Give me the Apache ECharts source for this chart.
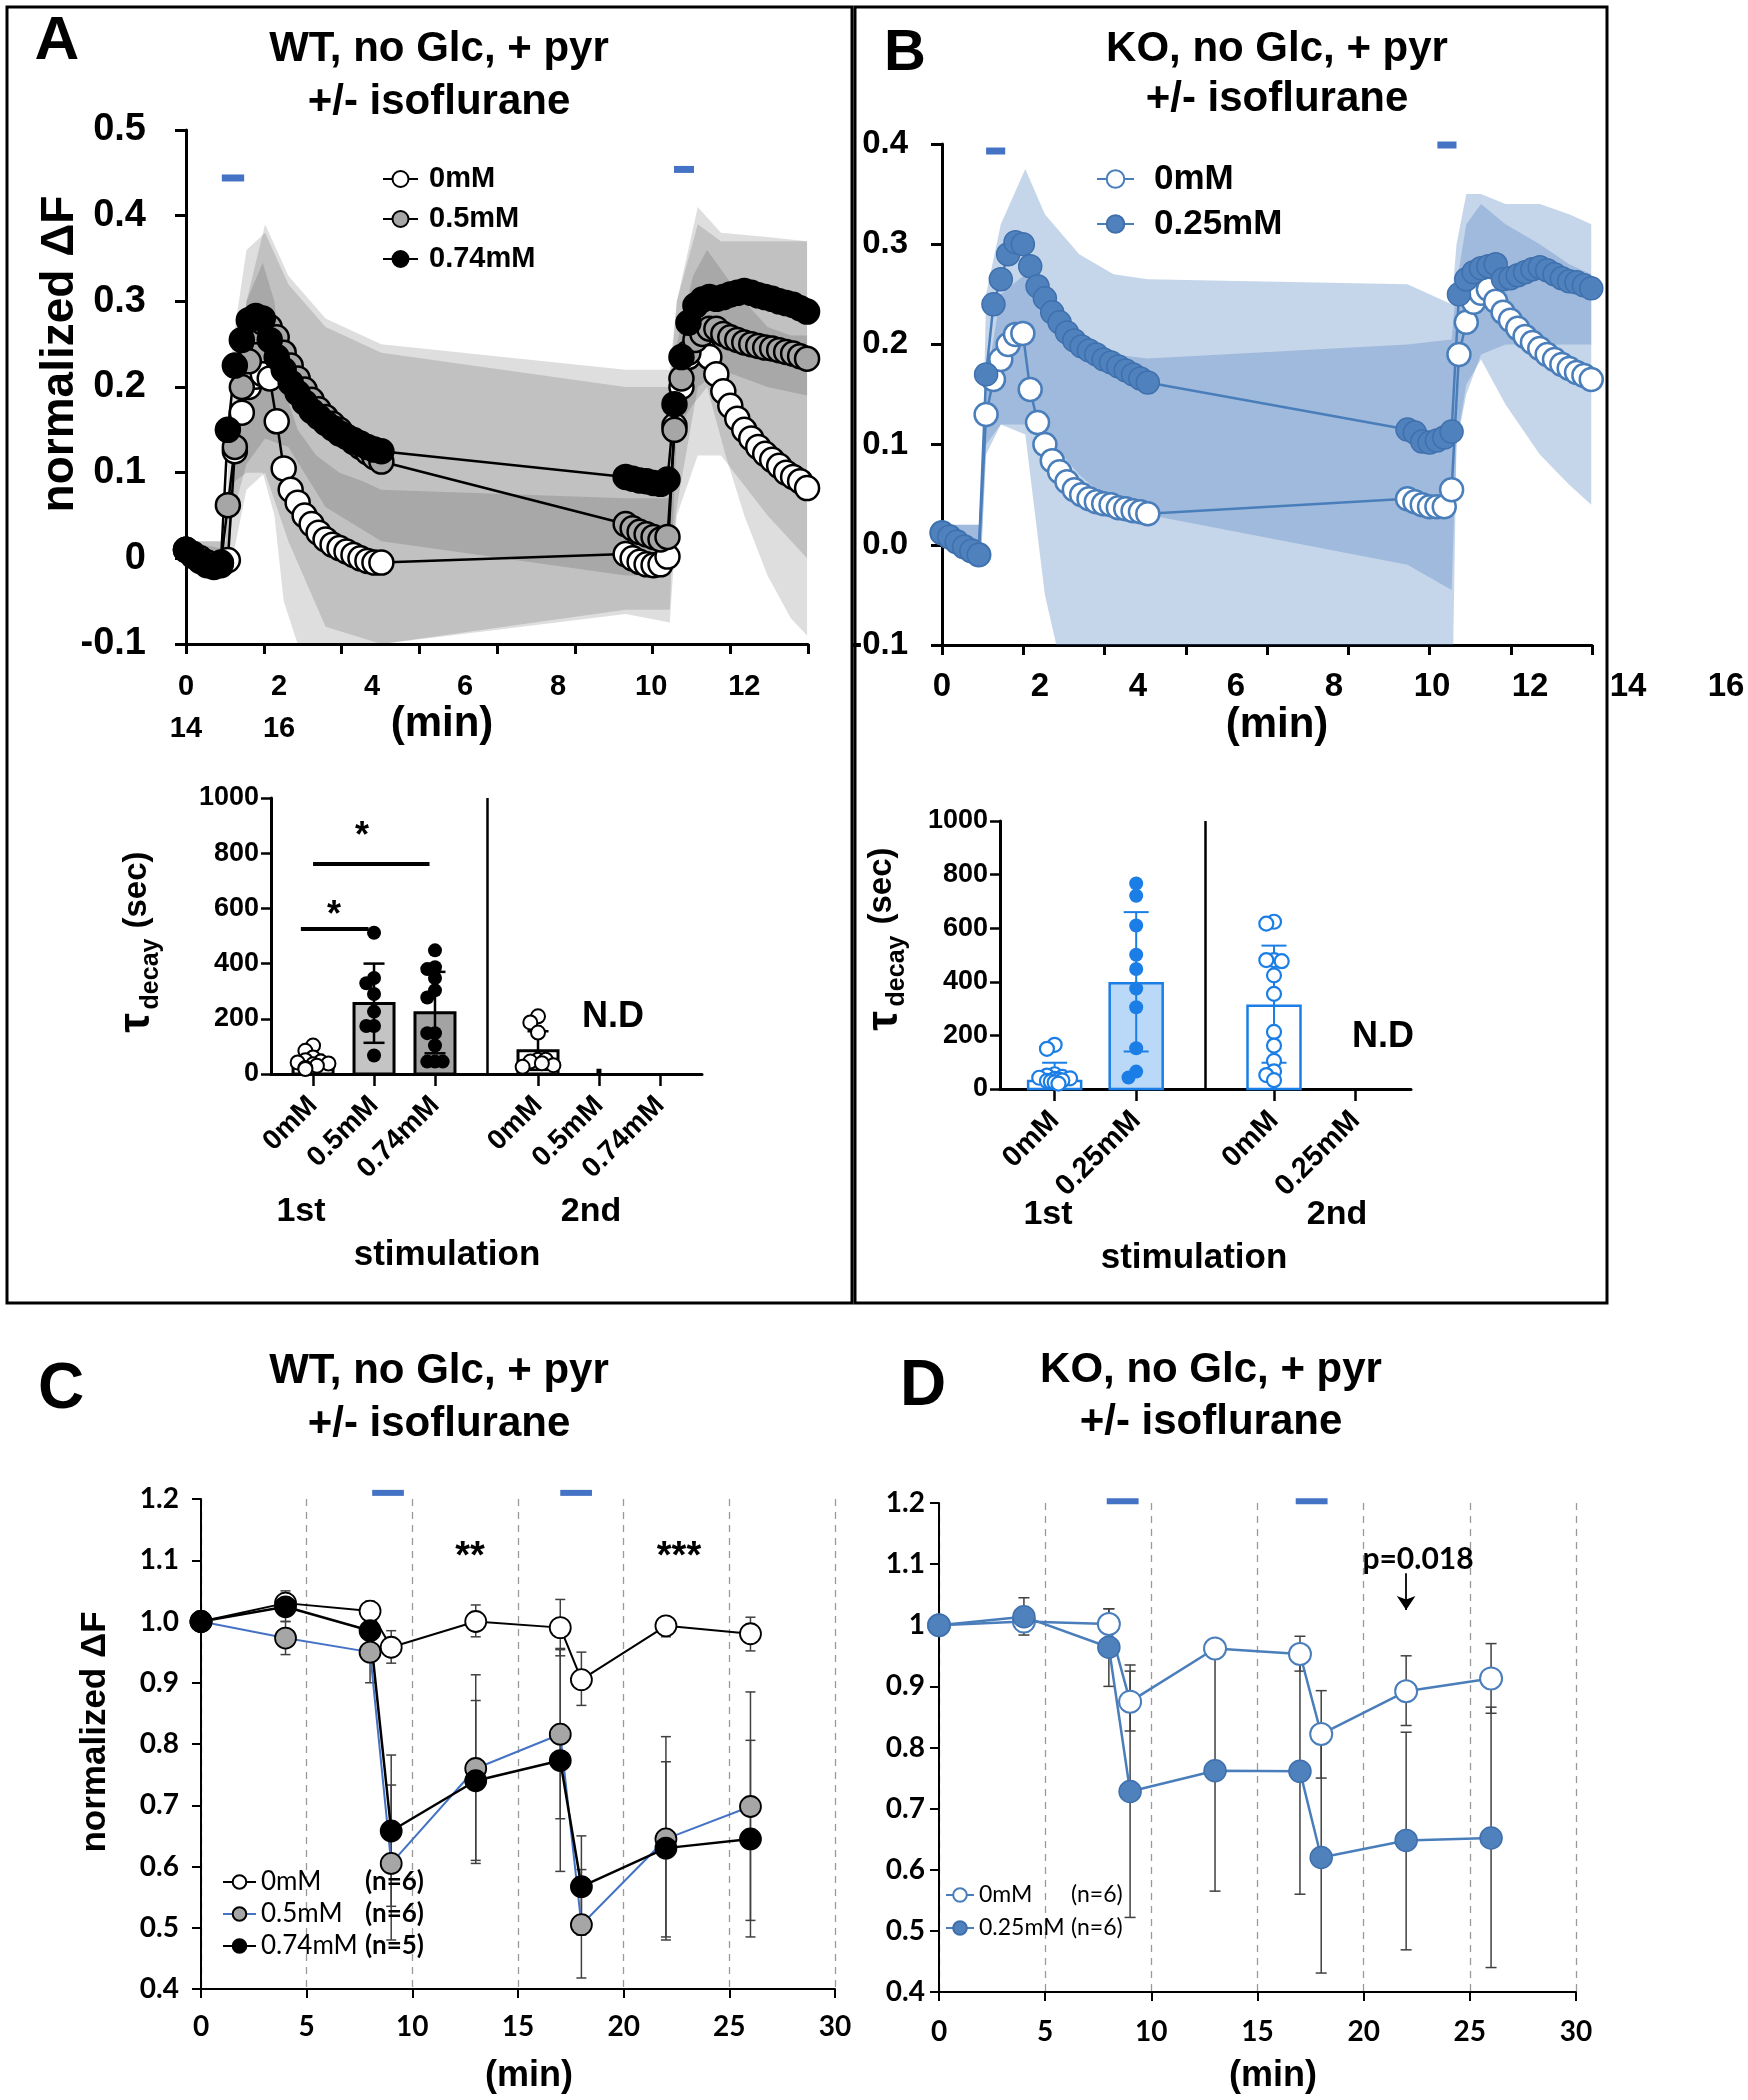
<!DOCTYPE html>
<html><head><meta charset="utf-8">
<script src="https://cdn.jsdelivr.net/npm/echarts@6/dist/echarts.min.js"></script>
<style>html,body{margin:0;padding:0;background:#fff}#c{width:1748px;height:2100px}</style>
</head><body><div id="c"></div><script>
// ===================== DATA =====================
// Panel A (top): time in min, normalized dF
const timeA = [0,0.15,0.3,0.45,0.6,0.75,0.9,1.05,1.2,1.35,1.5,1.65,1.8,1.95,2.1,2.25,2.4,2.55,2.7,2.85,3.0,3.15,3.3,3.45,3.6,3.75,3.9,4.05,4.2,
  9.45,9.6,9.75,9.9,10.05,10.2,10.35,10.5,10.65,10.8,10.95,11.1,11.25,11.4,11.55,11.7,11.85,12.0,12.15,12.3,12.45,12.6,12.75,12.9,13.05,13.2,13.35];
const a0mM = [0.01,0.005,0.0,-0.005,-0.008,-0.008,-0.002,0.125,0.17,0.2,0.212,0.215,0.21,0.16,0.105,0.08,0.065,0.05,0.04,0.03,0.022,0.016,0.012,0.008,0.004,0.0,-0.003,-0.005,-0.005,
  0.005,0.0,-0.004,-0.007,-0.008,-0.007,0.002,0.155,0.2,0.235,0.25,0.245,0.235,0.215,0.195,0.178,0.163,0.15,0.14,0.13,0.122,0.115,0.108,0.1,0.095,0.09,0.082];
const a05mM = [0.01,0.005,0.0,-0.005,-0.008,-0.006,0.062,0.13,0.2,0.23,0.265,0.275,0.27,0.258,0.24,0.225,0.21,0.197,0.185,0.174,0.165,0.157,0.15,0.142,0.136,0.13,0.124,0.118,0.113,
  0.04,0.035,0.031,0.028,0.025,0.022,0.025,0.15,0.21,0.24,0.255,0.262,0.268,0.268,0.262,0.258,0.255,0.252,0.25,0.248,0.246,0.245,0.243,0.241,0.239,0.236,0.233];
const a074mM = [0.01,0.003,-0.003,-0.008,-0.01,-0.005,0.15,0.225,0.255,0.278,0.283,0.28,0.255,0.235,0.22,0.205,0.193,0.182,0.172,0.165,0.158,0.152,0.146,0.142,0.138,0.134,0.13,0.127,0.125,
  0.095,0.093,0.091,0.09,0.088,0.087,0.092,0.18,0.235,0.275,0.295,0.302,0.305,0.303,0.305,0.308,0.31,0.312,0.31,0.307,0.305,0.303,0.3,0.298,0.296,0.292,0.288];
const bandTimeA0 = [0,0.9,1.05,1.3,1.65,1.9,2.1,2.4,2.8,3.3,3.8,4.2,9.45,10.4,10.55,10.9,11.2,11.6,12.0,12.5,13.0,13.35];
const bandA0Up = [0.02,0.01,0.16,0.3,0.345,0.3,0.2,0.15,0.12,0.1,0.09,0.08,0.07,0.07,0.25,0.33,0.36,0.33,0.3,0.27,0.26,0.26];
const bandA0Lo = [-0.005,-0.01,0.09,0.1,0.1,0.05,-0.05,-0.1,-0.12,-0.12,-0.11,-0.1,-0.06,-0.06,0.15,0.18,0.2,0.12,0.05,-0.02,-0.07,-0.09];
const bandTimeA = [0,0.85,1.0,1.3,1.7,2.2,3.0,4.2,9.45,10.4,10.55,11.0,11.5,12.5,13.35];
const bandA05Up = [0.02,0.02,0.12,0.3,0.39,0.33,0.28,0.25,0.22,0.22,0.3,0.41,0.38,0.375,0.37];
const bandA05Lo = [-0.01,-0.02,0.0,0.08,0.1,0.02,-0.08,-0.1,-0.065,-0.075,0.05,0.12,0.12,0.05,0.0];
const bandA074Up = [0.02,0.02,0.25,0.36,0.38,0.32,0.27,0.24,0.2,0.2,0.3,0.39,0.37,0.37,0.37];
const bandA074Lo = [-0.01,-0.02,0.05,0.11,0.14,0.13,0.06,0.02,-0.02,-0.02,0.06,0.2,0.22,0.2,0.19];
const stimA = [[0.77,1.25,0.444],[10.49,10.92,0.454]];
const yTicksA = ['-0.1','0','0.1','0.2','0.3','0.4','0.5'];
const extraXLabelsA = ['14','16'];

// Panel B (top)
const timeB = [0,0.15,0.3,0.45,0.6,0.75,0.9,1.05,1.2,1.35,1.5,1.65,1.8,1.95,2.1,2.25,2.4,2.55,2.7,2.85,3.0,3.15,3.3,3.45,3.6,3.75,3.9,4.05,4.2,
  9.5,9.65,9.8,9.95,10.1,10.25,10.4,10.55,10.7,10.85,11.0,11.15,11.3,11.45,11.6,11.75,11.9,12.05,12.2,12.35,12.5,12.65,12.8,12.95,13.1,13.25];
const b0mM = [0.012,0.008,0.003,-0.002,-0.006,-0.01,0.13,0.165,0.185,0.2,0.21,0.211,0.155,0.122,0.1,0.084,0.073,0.063,0.055,0.05,0.046,0.043,0.041,0.04,0.037,0.036,0.034,0.033,0.031,
  0.046,0.043,0.04,0.038,0.038,0.038,0.055,0.19,0.222,0.242,0.251,0.255,0.243,0.232,0.224,0.216,0.208,0.202,0.196,0.19,0.185,0.18,0.176,0.172,0.169,0.165];
const b025mM = [0.012,0.008,0.003,-0.002,-0.006,-0.01,0.17,0.24,0.265,0.29,0.302,0.3,0.278,0.258,0.246,0.232,0.222,0.212,0.204,0.198,0.194,0.19,0.185,0.182,0.178,0.174,0.17,0.166,0.162,
  0.115,0.112,0.103,0.102,0.104,0.107,0.113,0.25,0.265,0.272,0.276,0.278,0.28,0.265,0.266,0.269,0.272,0.275,0.277,0.274,0.27,0.266,0.263,0.262,0.259,0.256];
const bandTimeB = [0,0.8,0.9,1.2,1.7,2.1,2.8,3.5,4.2,9.5,10.4,10.5,10.7,11.0,11.5,12.2,12.8,13.25];
const bandB025Up = [0.02,0.02,0.25,0.32,0.375,0.33,0.29,0.27,0.265,0.26,0.24,0.3,0.35,0.35,0.34,0.34,0.33,0.32];
const bandB025Lo = [0.0,-0.01,0.09,0.12,0.12,0.11,0.07,0.04,0.03,-0.02,-0.045,0.1,0.15,0.19,0.2,0.2,0.2,0.2];
const bandB0Up = [0.02,0.02,0.16,0.25,0.27,0.23,0.2,0.19,0.186,0.2,0.205,0.26,0.32,0.34,0.32,0.3,0.28,0.27];
const bandB0Lo = [0.0,-0.01,0.1,0.12,0.11,-0.05,-0.2,-0.2,-0.2,-0.2,-0.2,0.1,0.16,0.185,0.14,0.09,0.06,0.04];
const stimB = [[0.9,1.29,0.393],[10.11,10.5,0.399]];
const yTicksB = ['-0.1','0.0','0.1','0.2','0.3','0.4'];

// Panel A (bar): tau decay (sec)
const barCatsA = ['0mM','0.5mM','0.74mM','0mM','0.5mM','0.74mM'];
const barMeanA = [45,255,222,84,null,null];
const barErrLoA = [20,113,75,15,null,null];
const barErrHiA = [70,400,370,155,null,null];
const barPtsA = [[103,84,60,50,45,42,38,35,30,22,18],[512,348,329,290,226,174,174,67],[448,387,380,348,303,277,148,148,103,45,45,45],[209,187,150,52,45,52,26,32,39],[10],[]];
const sigA = [[0.49,1.6,528],[0.69,2.6,761]];

// Panel B (bar)
const barCatsB = ['0mM','0.25mM','0mM','0.25mM'];
const barMeanB = [30,395,311,null];
const barErrLoB = [0,140,98,null];
const barErrHiB = [98,660,535,null];
const barPtsB = [[165,150,55,50,45,42,40,38,35,32,30,28,25,20],[767,721,610,501,448,375,305,152,65,43],[624,617,481,481,477,424,355,213,162,105,66,52,33],[]];

// Panel C / D
const timeCD = [0,4,8,9,13,17,18,22,26];
const c0mM = [1.0,1.03,1.017,0.958,1.0,0.99,0.905,0.993,0.98];
const c0mMLo = [1.0,1.013,1.0,0.932,0.975,0.944,0.863,0.975,0.952];
const c0mMHi = [1.0,1.05,1.033,0.985,1.027,1.036,0.95,1.007,1.007];
const c05mM = [1.0,0.973,0.95,0.605,0.76,0.816,0.505,0.645,0.698];
const c05mMLo = [1.0,0.946,0.9,0.48,0.605,0.678,0.418,0.48,0.512];
const c05mMHi = [1.0,1.0,1.0,0.733,0.913,0.956,0.595,0.812,0.885];
const c074mM = [1.0,1.024,0.985,0.658,0.74,0.773,0.567,0.63,0.645];
const c074mMLo = [1.0,1.0,0.96,0.535,0.61,0.592,0.488,0.485,0.485];
const c074mMHi = [1.0,1.046,1.01,0.782,0.871,0.954,0.65,0.771,0.806];
const cN = ['(n=6)','(n=6)','(n=5)'];
const stimC = [[8.1,9.6,1.21],[17.0,18.5,1.21]];
const yTicksC = ['0.4','0.5','0.6','0.7','0.8','0.9','1.0','1.1','1.2'];

const d0mM = [1.0,1.006,1.002,0.875,0.962,0.953,0.822,0.892,0.913];
const d0mMLo = [1.0,0.984,0.978,0.827,0.958,0.925,0.75,0.836,0.856];
const d0mMHi = [1.0,1.028,1.027,0.925,0.966,0.982,0.893,0.95,0.97];
const d025mM = [1.0,1.014,0.964,0.728,0.762,0.761,0.62,0.648,0.652];
const d025mMLo = [1.0,0.99,0.9,0.522,0.565,0.56,0.431,0.469,0.44];
const d025mMHi = [1.0,1.045,1.027,0.935,0.96,0.96,0.806,0.825,0.866];
const dN = ['(n=6)','(n=6)'];
const stimD = [[7.9,9.4,1.203],[16.8,18.3,1.203]];
const arrowD = [[22,1.085],[22,1.025]];
const yTicksD = ['0.4','0.5','0.6','0.7','0.8','0.9','1','1.1','1.2'];

// ===================== LAYOUT / STYLE =====================
const FF = '"Liberation Sans", Arial, Helvetica, sans-serif';
const FC = 'Lato, "Open Sans", sans-serif';
const posBarA = [0.69,1.69,2.69,4.38,5.38,6.38], sepBarA = 3.54, maxBarA = 7.07;
const posBarB = [0.67,1.67,3.36,4.36], sepBarB = 2.52, maxBarB = 5.04;
const GRID = [
  {left:186, top:130, width:622, height:514},   // 0 A top
  {left:942, top:144, width:650, height:501},   // 1 B top (ticks)
  {left:942, top:144, width:784, height:501},   // 2 B top (labels/data)
  {left:271, top:798, width:431, height:276},   // 3 A bar
  {left:1000, top:821, width:411, height:268},  // 4 B bar
  {left:201, top:1499, width:634, height:490},  // 5 C
  {left:939, top:1503, width:637, height:489}   // 6 D
];

const lbl = (size, fam, extra) => Object.assign({color:'#000', fontSize:size, fontWeight:'bold', fontFamily:fam}, extra||{});
const line = (w) => ({show:true, onZero:false, lineStyle:{color:'#000', width:w}});
const tick = (len, w) => ({show:true, length:len, lineStyle:{color:'#000', width:w}});
const noLine = {show:false, onZero:false};

function swarm(vals, pxPer, size) {
  const step = size * 0.55, placed = [];
  return vals.map(v => {
    const y = v * pxPer;
    for (const k of [0,-1,1,-2,2]) {
      const dx = k * step;
      if (placed.every(p => Math.hypot(p[0]-dx, p[1]-y) >= size*0.55)) { placed.push([dx,y]); return dx; }
    }
    const dx = (placed.length % 5 - 2) * step * 0.5;
    placed.push([dx,y]); return dx;
  });
}
function bandSeries(xi, yi, times, up, lo, fill) {
  return {type:'custom', xAxisIndex:xi, yAxisIndex:yi, clip:true, silent:true, z:1,
    data:[[times[0], up[0]]],
    renderItem(params, api) {
      if (params.dataIndex !== 0) return null;
      const pts = [];
      for (let i = 0; i < times.length; i++) pts.push(api.coord([times[i], up[i]]));
      for (let i = times.length-1; i >= 0; i--) pts.push(api.coord([times[i], lo[i]]));
      return {type:'polygon', shape:{points:pts}, style:{fill:fill}};
    }};
}
function stimSeries(xi, yi, data, h, color) {
  return {type:'custom', xAxisIndex:xi, yAxisIndex:yi, clip:false, silent:true, z:6, data,
    renderItem(p, api) {
      const a = api.coord([api.value(0), api.value(2)]), b = api.coord([api.value(1), api.value(2)]);
      return {type:'rect', shape:{x:a[0], y:a[1]-h/2, width:b[0]-a[0], height:h}, style:{fill:color}};
    }};
}
function errSeries(xi, yi, xs, lo, hi, color, cap, w, z) {
  const data = [];
  xs.forEach((x,i) => { if (lo[i] != null && hi[i] != null && hi[i] > lo[i]) data.push([x, lo[i], hi[i]]); });
  return {type:'custom', xAxisIndex:xi, yAxisIndex:yi, clip:false, silent:true, z:z||2, data,
    renderItem(p, api) {
      const t = api.coord([api.value(0), api.value(2)]), b = api.coord([api.value(0), api.value(1)]);
      const st = {stroke:color, lineWidth:w};
      return {type:'group', children:[
        {type:'line', shape:{x1:t[0], y1:t[1], x2:b[0], y2:b[1]}, style:st},
        {type:'line', shape:{x1:t[0]-cap/2, y1:t[1], x2:t[0]+cap/2, y2:t[1]}, style:st},
        {type:'line', shape:{x1:b[0]-cap/2, y1:b[1], x2:b[0]+cap/2, y2:b[1]}, style:st}]};
    }};
}
function barSeries(xi, yi, xs, means, width, fills, stroke, lw) {
  const data = [];
  xs.forEach((x,i) => { if (means[i] != null) data.push([x, means[i], i]); });
  return {type:'custom', xAxisIndex:xi, yAxisIndex:yi, silent:true, z:2, data,
    renderItem(p, api) {
      const p0 = api.coord([api.value(0), 0]), p1 = api.coord([api.value(0), api.value(1)]);
      return {type:'rect', shape:{x:p0[0]-width/2, y:p1[1], width:width, height:p0[1]-p1[1]},
        style:{fill:fills[api.value(2)], stroke:stroke, lineWidth:lw}};
    }};
}
function ptsSeries(xi, yi, pos, vals, pxPer, size, st, extra) {
  const offs = swarm(vals, pxPer, size);
  return Object.assign({type:'scatter', xAxisIndex:xi, yAxisIndex:yi, z:4, silent:true,
    symbol: st.symbol || 'circle', symbolSize: st.size || size,
    itemStyle:{color:st.fill, borderColor:st.stroke, borderWidth:st.lw||0, opacity:1},
    data: vals.map((v,i) => ({value:[pos, v], symbolOffset:[offs[i], 0]}))}, extra||{});
}
function lineSeries(name, xi, yi, xs, ys, st) {
  return Object.assign({type:'line', name, xAxisIndex:xi, yAxisIndex:yi, z:st.z||3, silent:true,
    data: xs.map((x,i) => [x, ys[i]]), symbol:'circle', symbolSize:st.size, showSymbol:true,
    lineStyle:{color:st.line, width:st.lw}, itemStyle:{color:st.fill, borderColor:st.stroke, borderWidth:st.bw},
    emphasis:{disabled:true}}, st.extra||{});
}
const catFormatter = (pos, cats) => (v) => { const i = pos.findIndex(p => Math.abs(p - v) < 1e-6); return i >= 0 ? cats[i] : ''; };

// ===================== OPTION =====================
const xAxis = [
  {gridIndex:0, type:'value', position:'bottom', min:0, max:16, interval:2, axisLine:line(3), axisTick:tick(10,3), axisLabel:{show:false}, splitLine:{show:false}},
  {gridIndex:0, type:'value', position:'bottom', min:0, max:13.37, interval:2, axisLine:noLine, axisTick:{show:false}, splitLine:{show:false},
    axisLabel:lbl(29, FF, {showMaxLabel:false, margin:28})},
  {gridIndex:0, type:'value', position:'bottom', offset:42, min:14, max:27.37, interval:2, axisLine:noLine, axisTick:{show:false}, splitLine:{show:false},
    axisLabel:lbl(29, FF, {showMaxLabel:false, margin:28, formatter:(v) => extraXLabelsA.includes(String(v)) ? String(v) : ''})},
  {gridIndex:1, type:'value', position:'bottom', min:0, max:16, interval:2, axisLine:line(3), axisTick:tick(10,3), axisLabel:{show:false}, splitLine:{show:false}},
  {gridIndex:2, type:'value', position:'bottom', min:0, max:16, interval:2, axisLine:noLine, axisTick:{show:false}, splitLine:{show:false},
    axisLabel:lbl(33, FF, {margin:25})},
  {gridIndex:3, type:'value', position:'bottom', min:0, max:maxBarA, axisLine:line(3), splitLine:{show:false},
    axisTick:Object.assign(tick(12,2.5), {customValues:posBarA}),
    axisLabel:lbl(28, FF, {customValues:posBarA, rotate:45, margin:27, formatter:catFormatter(posBarA, barCatsA)})},
  {gridIndex:4, type:'value', position:'bottom', min:0, max:maxBarB, axisLine:line(3), splitLine:{show:false},
    axisTick:Object.assign(tick(12,2.5), {customValues:posBarB}),
    axisLabel:lbl(29, FF, {customValues:posBarB, rotate:45, margin:27, formatter:catFormatter(posBarB, barCatsB)})},
  {gridIndex:5, type:'value', position:'bottom', min:0, max:30, interval:5, axisLine:line(2), axisTick:tick(9,2),
    splitLine:{show:true, lineStyle:{color:'#9a9a9a', width:1.3, type:[7,6]}}, axisLabel:lbl(28, FC, {margin:24})},
  {gridIndex:6, type:'value', position:'bottom', min:0, max:30, interval:5, axisLine:line(2), axisTick:tick(9,2),
    splitLine:{show:true, lineStyle:{color:'#9a9a9a', width:1.3, type:[7,6]}}, axisLabel:lbl(28, FC, {margin:26})}
];
const yAxis = [
  {gridIndex:0, type:'value', min:-0.1, max:0.5, interval:0.1, axisLine:line(3), axisTick:tick(11,3), splitLine:{show:false},
    axisLabel:lbl(38, FF, {margin:40, formatter:(v) => yTicksA[Math.round((v+0.1)/0.1)]})},
  {gridIndex:1, type:'value', min:-0.1, max:0.4, interval:0.1, axisLine:line(3), axisTick:tick(11,3), splitLine:{show:false},
    axisLabel:lbl(33, FF, {margin:34, formatter:(v) => yTicksB[Math.round((v+0.1)/0.1)]})},
  {gridIndex:2, type:'value', min:-0.1, max:0.4, show:false},
  {gridIndex:3, type:'value', min:0, max:1000, interval:200, axisLine:line(3), axisTick:tick(10,2.5), splitLine:{show:false},
    axisLabel:lbl(27, FF, {margin:12, formatter:(v) => String(v)})},
  {gridIndex:4, type:'value', min:0, max:1000, interval:200, axisLine:line(3), axisTick:tick(10,2.5), splitLine:{show:false},
    axisLabel:lbl(27, FF, {margin:12, formatter:(v) => String(v)})},
  {gridIndex:5, type:'value', min:0.4, max:1.2, interval:0.1, axisLine:line(2), axisTick:tick(9,2), splitLine:{show:false},
    axisLabel:lbl(28, FC, {margin:22, formatter:(v) => yTicksC[Math.round((v-0.4)/0.1)]})},
  {gridIndex:6, type:'value', min:0.4, max:1.2, interval:0.1, axisLine:line(2), axisTick:tick(9,2), splitLine:{show:false},
    axisLabel:lbl(28, FC, {margin:14, formatter:(v) => yTicksD[Math.round((v-0.4)/0.1)]})}
];

const grayBand = 'rgba(0,0,0,0.13)';
const blueBand = 'rgba(79,129,189,0.32)';
const series = [];
// A top
series.push(bandSeries(1,0,bandTimeA,bandA05Up,bandA05Lo,grayBand));
series.push(bandSeries(1,0,bandTimeA,bandA074Up,bandA074Lo,grayBand));
series.push(bandSeries(1,0,bandTimeA0,bandA0Up,bandA0Lo,grayBand));
series.push(lineSeries('A|0mM',1,0,timeA,a0mM,{size:24,line:'#000',lw:2.5,fill:'#fff',stroke:'#000',bw:2.5}));
series.push(lineSeries('A|0.5mM',1,0,timeA,a05mM,{size:24,line:'#000',lw:2.5,fill:'#a6a6a6',stroke:'#000',bw:2.5}));
series.push(lineSeries('A|0.74mM',1,0,timeA,a074mM,{size:24,line:'#000',lw:2.5,fill:'#000',stroke:'#000',bw:2.5}));
series.push(stimSeries(1,0,stimA,7,'#4472c4'));
// B top
series.push(bandSeries(4,2,bandTimeB,bandB025Up,bandB025Lo,blueBand));
series.push(bandSeries(4,2,bandTimeB,bandB0Up,bandB0Lo,blueBand));
series.push(lineSeries('B|0mM',4,2,timeB,b0mM,{size:23,line:'#4a7ebb',lw:2.5,fill:'#fff',stroke:'#4a7ebb',bw:2.5}));
series.push(lineSeries('B|0.25mM',4,2,timeB,b025mM,{size:23,line:'#4a7ebb',lw:2.5,fill:'#4f81bd',stroke:'#3f70ad',bw:1.5}));
series.push(stimSeries(4,2,stimB,7,'#4472c4'));
// A bar
series.push(barSeries(5,3,posBarA,barMeanA,40,['#ffffff','#c4c4c4','#a3a3a3','#ffffff','#fff','#fff'],'#000',3));
series.push(errSeries(5,3,posBarA,barErrLoA,barErrHiA,'#000',21,2.5,3));
const ptStA = [{fill:'#fff',stroke:'#000',lw:2},{fill:'#000'},{fill:'#000'},{fill:'#fff',stroke:'#000',lw:2},{fill:'#000',symbol:'rect',size:5},null];
barPtsA.forEach((vals,g) => { if (vals.length && ptStA[g]) series.push(ptsSeries(5,3,posBarA[g],vals,0.276,14,ptStA[g],
  g === 0 ? {markLine:{silent:true, symbol:'none', label:{show:false}, animation:false,
    data:[ [{xAxis:sepBarA, yAxis:0},{xAxis:sepBarA, yAxis:1000}], ...sigA.map(s => [{coord:[s[0],s[2]], lineStyle:{width:4}},{coord:[s[1],s[2]]}]) ],
    lineStyle:{color:'#000', width:2.5, type:'solid'}}} : null)); });
// B bar
const bBlue = '#1a7ee6';
series.push(barSeries(6,4,posBarB,barMeanB,53,['#ffffff','#bad8f7','#ffffff','#fff'],bBlue,2.5));
series.push(errSeries(6,4,posBarB,barErrLoB,barErrHiB,bBlue,25,2,3));
const ptStB = [{fill:'#fff',stroke:bBlue,lw:2.2},{fill:bBlue},{fill:'#fff',stroke:bBlue,lw:2.2},null];
barPtsB.forEach((vals,g) => { if (vals.length && ptStB[g]) series.push(ptsSeries(6,4,posBarB[g],vals,0.268,14,ptStB[g],
  g === 0 ? {markLine:{silent:true, symbol:'none', label:{show:false}, animation:false,
    data:[[{xAxis:sepBarB, yAxis:0},{xAxis:sepBarB, yAxis:1000}]], lineStyle:{color:'#000', width:2.5, type:'solid'}}} : null)); });
// C
series.push(errSeries(7,5,timeCD,c0mMLo,c0mMHi,'#404040',10,1.5));
series.push(errSeries(7,5,timeCD,c05mMLo,c05mMHi,'#404040',10,1.5));
series.push(errSeries(7,5,timeCD,c074mMLo,c074mMHi,'#404040',10,1.5));
series.push(lineSeries('C|0mM',7,5,timeCD,c0mM,{size:21,line:'#000',lw:2,fill:'#fff',stroke:'#000',bw:1.8}));
series.push(lineSeries('C|0.5mM',7,5,timeCD,c05mM,{size:21,line:'#4472c4',lw:2,fill:'#a6a6a6',stroke:'#000',bw:1.8}));
series.push(lineSeries('C|0.74mM',7,5,timeCD,c074mM,{size:21,line:'#000',lw:2.5,fill:'#000',stroke:'#000',bw:1.8}));
series.push(stimSeries(7,5,stimC,6,'#4472c4'));
// D
series.push(errSeries(8,6,timeCD,d0mMLo,d0mMHi,'#404040',11,1.5));
series.push(errSeries(8,6,timeCD,d025mMLo,d025mMHi,'#404040',11,1.5));
series.push(lineSeries('D|0mM',8,6,timeCD,d0mM,{size:22,line:'#4a7ebb',lw:2.5,fill:'#fff',stroke:'#4a7ebb',bw:2,
  extra:{markLine:{silent:true, animation:false, symbol:['none','arrow'], symbolSize:14, label:{show:false},
    lineStyle:{color:'#000', width:1.8, type:'solid'}, data:[[{coord:arrowD[0]},{coord:arrowD[1]}]]}}}));
series.push(lineSeries('D|0.25mM',8,6,timeCD,d025mM,{size:22,line:'#4a7ebb',lw:2.5,fill:'#4f81bd',stroke:'#3f70ad',bw:1.5}));
series.push(stimSeries(8,6,stimD,6,'#4472c4'));

const legendBase = {orient:'vertical', selectedMode:false, padding:0, inactiveColor:'#000'};
const legend = [
  Object.assign({}, legendBase, {left:382, top:164, itemWidth:35, itemHeight:20, itemGap:10, data:['A|0mM','A|0.5mM','A|0.74mM'],
    formatter:(n) => n.split('|')[1], textStyle:lbl(29, FF, {lineHeight:30, padding:[0,0,0,6]})}),
  Object.assign({}, legendBase, {left:1096, top:161, itemWidth:37, itemHeight:22, itemGap:9, data:['B|0mM','B|0.25mM'],
    formatter:(n) => n.split('|')[1], textStyle:lbl(35, FF, {lineHeight:36, padding:[0,0,0,15]})}),
  Object.assign({}, legendBase, {left:222, top:1869, itemWidth:33, itemHeight:17, itemGap:6, data:['C|0mM','C|0.5mM','C|0.74mM'],
    formatter:(n) => { const i = ['C|0mM','C|0.5mM','C|0.74mM'].indexOf(n); return '{a|' + n.split('|')[1] + '}{b|' + cN[i] + '}'; },
    textStyle:{lineHeight:26, rich:{a:lbl(26, FC, {width:104, fontWeight:'normal'}), b:lbl(26, FC)}}}),
  Object.assign({}, legendBase, {left:945, top:1882, itemWidth:28, itemHeight:17, itemGap:7, data:['D|0mM','D|0.25mM'],
    formatter:(n) => { const i = ['D|0mM','D|0.25mM'].indexOf(n); return '{a|' + n.split('|')[1] + '}{b|' + dN[i] + '}'; },
    textStyle:{lineHeight:26, rich:{a:lbl(23, FC, {width:92, fontWeight:'normal'}), b:lbl(23, FC, {fontWeight:'normal'})}}})
];

function T(text, x, y, size, o) {
  o = o || {};
  return {type:'text', x, y, rotation:o.rot||0, z:50, silent:true,
    style:{text, font:(o.weight||'bold') + ' ' + size + 'px ' + (o.fam||FF), fill:'#000',
      align:o.align||'center', verticalAlign:'middle', textAlign:o.align||'center', textVerticalAlign:'middle'}};
}
const R90 = Math.PI/2;
const graphic = [
  {type:'rect', z:60, silent:true, shape:{x:7, y:7, width:845, height:1296}, style:{fill:'transparent', stroke:'#000', lineWidth:3}},
  {type:'rect', z:60, silent:true, shape:{x:855, y:7, width:752, height:1296}, style:{fill:'transparent', stroke:'#000', lineWidth:3}},
  T('A',57,42,62), T('B',905,54,58), T('C',61,1390,64), T('D',923,1387,64),
  T('WT, no Glc, + pyr',439,49,42), T('+/- isoflurane',439,102,42),
  T('KO, no Glc, + pyr',1277,49,42), T('+/- isoflurane',1277,99,42),
  T('WT, no Glc, + pyr',439,1371,42), T('+/- isoflurane',439,1424,42),
  T('KO, no Glc, + pyr',1211,1370,42), T('+/- isoflurane',1211,1422,42),
  T('normalized \u0394F',60,354,46,{rot:R90}),
  T('normalized \u0394F',95,1732,35,{rot:R90}),
  T('(min)',442,724,42), T('(min)',1277,725,42), T('(min)',529,2076,36), T('(min)',1273,2076,36),
  T('\u03c4',137,1023,44,{rot:R90}), T('decay',151,974,25,{rot:R90}), T('(sec)',137,890,33,{rot:R90}),
  T('\u03c4',885,1021,44,{rot:R90}), T('decay',897,971,25,{rot:R90}), T('(sec)',882,886,33,{rot:R90}),
  T('*',334,916,36), T('*',362,837,36),
  T('N.D',613,1017,36), T('N.D',1383,1037,36),
  T('1st',301,1212,34), T('2nd',591,1212,34), T('stimulation',447,1255,35),
  T('1st',1048,1215,34), T('2nd',1337,1215,34), T('stimulation',1194,1258,35),
  T('**',470,1558,38), T('***',679,1558,38),
  T('p=0.018',1418,1559,30,{fam:FC})
];

const chart = echarts.init(document.getElementById('c'), null, {renderer:'canvas', width:1748, height:2100});
chart.setOption({animation:false, backgroundColor:'#ffffff', grid:GRID, xAxis, yAxis, legend, series, graphic});
</script></body></html>
